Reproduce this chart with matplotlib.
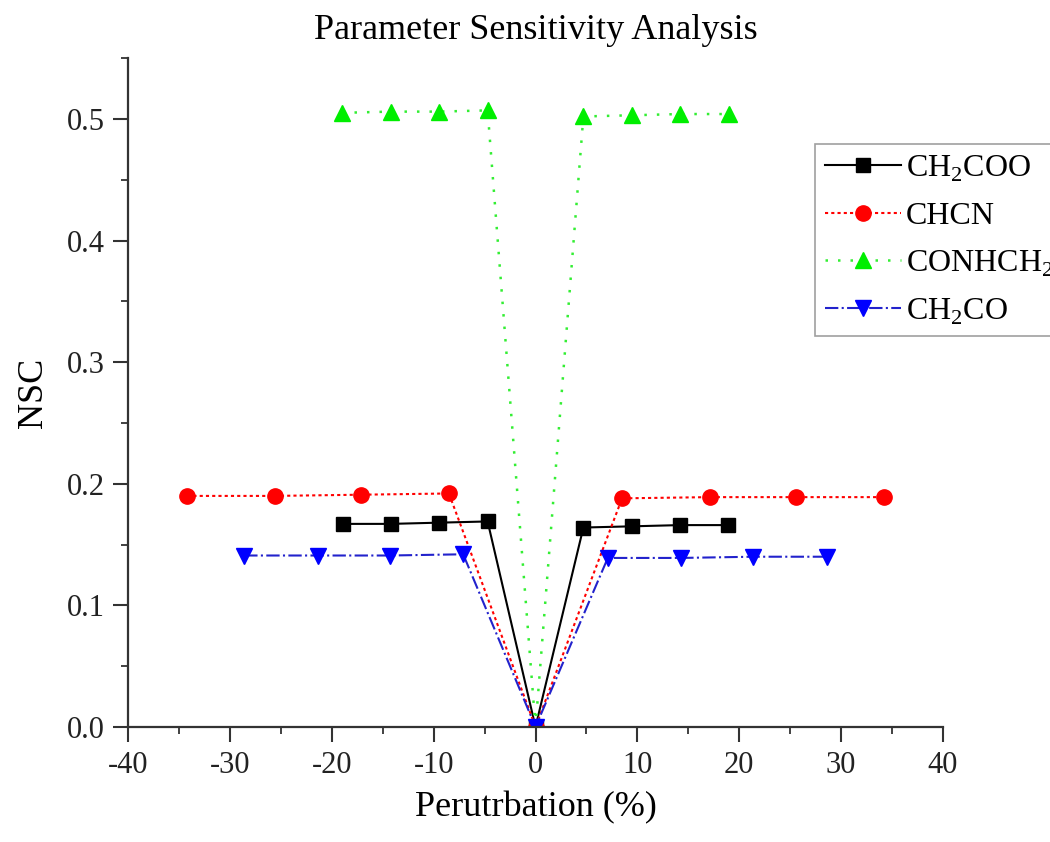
import matplotlib
matplotlib.use("Agg")
import matplotlib.pyplot as plt
from matplotlib.ticker import MultipleLocator, FormatStrFormatter

plt.rcParams['font.family'] = ['Liberation Serif', 'DejaVu Serif']
plt.rcParams['mathtext.fontset'] = 'custom'
plt.rcParams['mathtext.rm'] = 'Liberation Serif'
plt.rcParams['axes.unicode_minus'] = False

# perturbation (%) and NSC values
x_ch2coo = [-18.9, -14.2, -9.5, -4.7, 0, 4.7, 9.5, 14.2, 18.9]
y_ch2coo = [0.167, 0.167, 0.168, 0.169, 0.0, 0.164, 0.165, 0.166, 0.166]

x_chcn = [-34.2, -25.6, -17.1, -8.5, 0, 8.5, 17.1, 25.6, 34.2]
y_chcn = [0.190, 0.190, 0.191, 0.192, 0.0, 0.188, 0.189, 0.189, 0.189]

x_conhch2 = [-19.0, -14.2, -9.5, -4.7, 0, 4.7, 9.5, 14.2, 19.0]
y_conhch2 = [0.505, 0.506, 0.506, 0.507, 0.0, 0.502, 0.503, 0.504, 0.504]

x_ch2co = [-28.6, -21.4, -14.3, -7.1, 0, 7.1, 14.3, 21.4, 28.6]
y_ch2co = [0.141, 0.141, 0.141, 0.142, 0.0, 0.139, 0.139, 0.140, 0.140]

labels = [r'CH$_\mathrm{2}$COO', 'CHCN', r'CONHCH$_\mathrm{2}$', r'CH$_\mathrm{2}$CO']

fig = plt.figure(figsize=(10.5, 8.42), dpi=100)
ax = fig.add_axes([0.122, 0.1366, 0.776, 0.7944])

ax.plot(x_ch2coo, y_ch2coo, color='black', ls='-', lw=1.5, marker='s', ms=10, label=labels[0])
ax.plot(x_chcn, y_chcn, color='red', ls=(0, (1.5, 1.5)), lw=1.5, marker='o', ms=11, label=labels[1])
ax.plot(x_conhch2, y_conhch2, color='#33ee33', ls=(0, (1, 4)), lw=1.8, marker='^', ms=11,
        mfc='#00ee00', mec='#00ee00', label=labels[2])
ax.plot(x_ch2co, y_ch2co, color='#2222cc', ls='-.', lw=1.5, marker='v', ms=11,
        mfc='blue', mec='blue', label=labels[3])

ax.set_xlim(-40, 40)
ax.set_ylim(0, 0.55)
ax.xaxis.set_major_locator(MultipleLocator(10))
ax.xaxis.set_minor_locator(MultipleLocator(5))
ax.yaxis.set_major_locator(MultipleLocator(0.1))
ax.yaxis.set_minor_locator(MultipleLocator(0.05))
ax.yaxis.set_major_formatter(FormatStrFormatter('%.1f'))

for s in ['top', 'right']:
    ax.spines[s].set_visible(False)
for s in ['left', 'bottom']:
    ax.spines[s].set_linewidth(1.6)
    ax.spines[s].set_color('#333333')

ax.tick_params(which='major', direction='out', length=11, width=1.5, labelsize=22,
               pad=6, colors='#333333', labelcolor='#222222')
ax.tick_params(which='minor', direction='out', length=5, width=1.3, colors='#333333')

ax.set_title('Parameter Sensitivity Analysis', fontsize=26, pad=14)
ax.set_xlabel('Perutrbation (%)', fontsize=26, labelpad=8)
ax.set_ylabel('NSC', fontsize=26, labelpad=12)

# legend sits partly past the right edge, as in the original
leg = ax.legend(loc='upper left', bbox_to_anchor=(815 / 1050, 1 - 144 / 842),
                bbox_transform=fig.transFigure, fontsize=23, frameon=True, fancybox=False,
                handlelength=2.4, handletextpad=0.15, labelspacing=0.55, borderaxespad=0,
                borderpad=0.3)
leg.get_frame().set_edgecolor('#888888')
leg.get_frame().set_linewidth(1.2)

fig.savefig('out.png', dpi=100)
